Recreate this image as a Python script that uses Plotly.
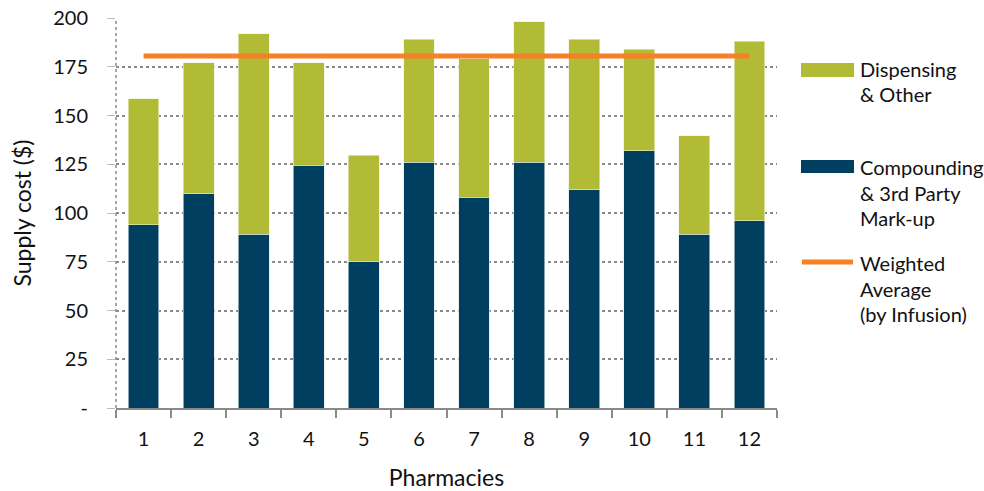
import plotly.graph_objects as go

# ---- data ----
pharmacies = ["1", "2", "3", "4", "5", "6", "7", "8", "9", "10", "11", "12"]
compounding = [94, 110, 89, 124.5, 75, 126, 108, 126, 112, 132, 89, 96]
totals = [158.5, 177, 192, 177, 129.5, 189, 179, 198, 189, 184, 139.5, 188]
dispensing = [t - c for t, c in zip(totals, compounding)]
weighted_avg = 180.5
y_tickvals = [0, 25, 50, 75, 100, 125, 150, 175, 200]
y_ticktext = ["-", "25", "50", "75", "100", "125", "150", "175", "200"]
legend_lines = [
    ["Dispensing", "& Other"],
    ["Compounding", "& 3rd Party", "Mark-up"],
    ["Weighted", "Average", "(by Infusion)"],
]

GREEN = "#B2BB36"
NAVY = "#003F5F"
ORANGE = "#F58025"
FONT = "Lato"

W, H = 984, 491
# plot area in pixels
L, R, T, B = 116, 777, 18, 408


def px(x):
    return (x - L) / (R - L)


def py(y):
    return (B - y) / (B - T)


fig = go.Figure()
fig.add_bar(x=pharmacies, y=compounding, marker=dict(color=NAVY, line=dict(color="#dfe6ea", width=0.6)),
            name="Compounding & 3rd Party Mark-up", showlegend=False)
fig.add_bar(x=pharmacies, y=dispensing, marker=dict(color=GREEN, line=dict(color="#eef0d8", width=0.6)),
            name="Dispensing & Other", showlegend=False)
fig.add_scatter(x=pharmacies, y=[weighted_avg] * len(pharmacies), mode="lines",
                line=dict(color=ORANGE, width=5), name="Weighted Average (by Infusion)",
                showlegend=False)

shapes = [
    # dotted y-axis line
    dict(type="line", xref="paper", yref="paper", x0=0, x1=0, y0=0, y1=1,
         line=dict(color="#8a8a8a", width=1.5, dash="dot")),
    # legend swatches
    dict(type="rect", xref="paper", yref="paper", x0=px(801), x1=px(854), y0=py(77), y1=py(63),
         fillcolor=GREEN, line=dict(width=0)),
    dict(type="rect", xref="paper", yref="paper", x0=px(801), x1=px(854), y0=py(173), y1=py(160),
         fillcolor=NAVY, line=dict(width=0)),
    dict(type="line", xref="paper", yref="paper", x0=px(802), x1=px(853), y0=py(262), y1=py(262),
         line=dict(color=ORANGE, width=5)),
]

annots = []
first_line_y = [69, 167, 263]
for lines, y0 in zip(legend_lines, first_line_y):
    for i, t in enumerate(lines):
        annots.append(dict(text=t, xref="paper", yref="paper", x=px(858), y=py(y0 + i * 25.5),
                           xanchor="left", yanchor="middle", align="left", showarrow=False,
                           font=dict(family=FONT, size=20, color="#111")))

fig.update_layout(
    width=W, height=H,
    margin=dict(l=L, r=W - R, t=T, b=H - B, autoexpand=False),
    barmode="stack", bargap=0.44,
    plot_bgcolor="white", paper_bgcolor="white",
    font=dict(family=FONT, size=20, color="#111"),
    shapes=shapes, annotations=annots,
    showlegend=False,
)
fig.update_xaxes(type="category", tickson="boundaries", ticks="outside", ticklen=8,
                 tickcolor="#8a8a8a", tickwidth=1.5, showline=True, linecolor="#8a8a8a",
                 linewidth=2, showgrid=False, ticklabelstandoff=12, automargin=False,
                 ticklabeloverflow="allow",
                 tickfont=dict(family=FONT, size=20),
                 title=dict(text="Pharmacies", font=dict(family=FONT, size=23), standoff=21))
fig.update_yaxes(range=[0, 200], tickvals=y_tickvals, ticktext=y_ticktext,
                 showgrid=True, gridcolor="#8a8a8a", griddash="dot", gridwidth=1.5,
                 ticks="outside", ticklen=8, tickcolor="#bbbbbb", tickwidth=1,
                 showline=False, zeroline=False, ticklabelstandoff=15, automargin=False,
                 ticklabeloverflow="allow",
                 tickfont=dict(family=FONT, size=20),
                 title=dict(text="Supply cost ($)", font=dict(family=FONT, size=23), standoff=15))

fig.write_html("out.html", config={"displayModeBar": False},
               post_script="document.body.style.margin='0';")
